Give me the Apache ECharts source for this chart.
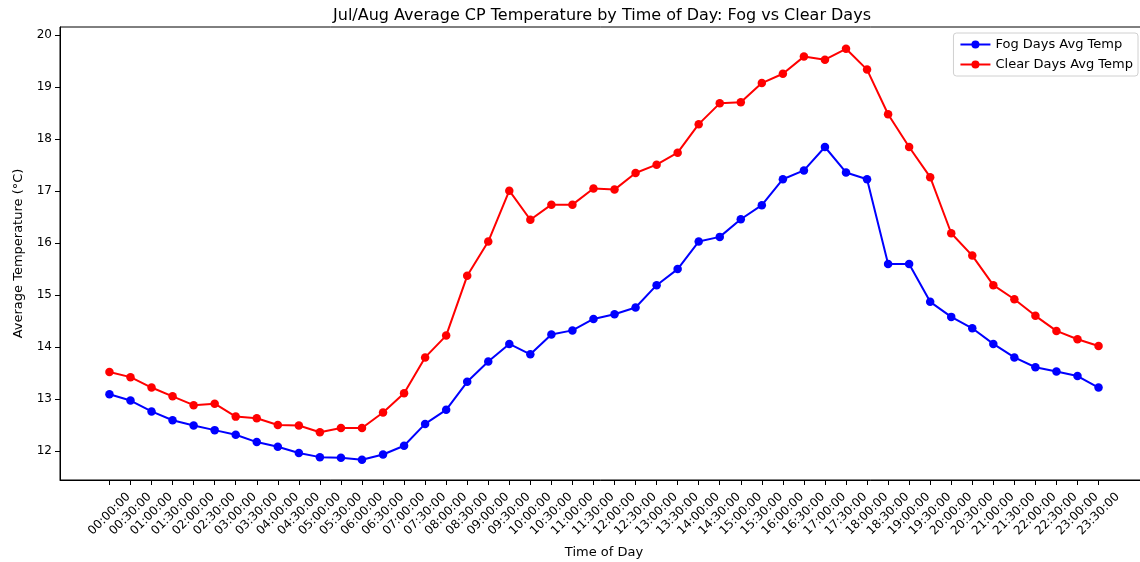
<!DOCTYPE html>
<html>
<head>
<meta charset="utf-8">
<script src="https://cdn.jsdelivr.net/npm/echarts@6/dist/echarts.min.js"></script>
<style>
  html, body { margin: 0; padding: 0; background: #fff; }
  #main { width: 1140px; height: 562px; }
</style>
</head>
<body>
<div id="main"></div>
<script>
// half-hour slots
const times = [
  '00:00:00', '00:30:00', '01:00:00', '01:30:00', '02:00:00', '02:30:00',
  '03:00:00', '03:30:00', '04:00:00', '04:30:00', '05:00:00', '05:30:00',
  '06:00:00', '06:30:00', '07:00:00', '07:30:00', '08:00:00', '08:30:00',
  '09:00:00', '09:30:00', '10:00:00', '10:30:00', '11:00:00', '11:30:00',
  '12:00:00', '12:30:00', '13:00:00', '13:30:00', '14:00:00', '14:30:00',
  '15:00:00', '15:30:00', '16:00:00', '16:30:00', '17:00:00', '17:30:00',
  '18:00:00', '18:30:00', '19:00:00', '19:30:00', '20:00:00', '20:30:00',
  '21:00:00', '21:30:00', '22:00:00', '22:30:00', '23:00:00', '23:30:00'
]

const fogTemp = [
  13.09, 12.97, 12.76, 12.59, 12.49, 12.40, 12.31, 12.17, 12.08, 11.96, 11.88, 11.87,
  11.83, 11.93, 12.10, 12.52, 12.79, 13.33, 13.72, 14.06, 13.86, 14.24, 14.32, 14.54,
  14.63, 14.76, 15.19, 15.50, 16.03, 16.12, 16.46, 16.73, 17.23, 17.40, 17.85, 17.36,
  17.23, 15.60, 15.60, 14.87, 14.58, 14.36, 14.06, 13.80, 13.61, 13.53, 13.44, 13.22
]

const clearTemp = [
  13.52, 13.42, 13.22, 13.05, 12.88, 12.91, 12.66, 12.63, 12.50, 12.49, 12.36, 12.44,
  12.44, 12.74, 13.11, 13.80, 14.22, 15.37, 16.03, 17.01, 16.45, 16.74, 16.74, 17.05,
  17.03, 17.35, 17.51, 17.74, 18.29, 18.69, 18.71, 19.08, 19.26, 19.59, 19.53, 19.74,
  19.34, 18.48, 17.85, 17.27, 16.19, 15.76, 15.19, 14.92, 14.60, 14.31, 14.15, 14.02
]

const yTicks = [12, 13, 14, 15, 16, 17, 18, 19, 20]

const font = 'DejaVu Sans'
const idx = times.map((t, i) => i)

const chart = echarts.init(document.getElementById('main'))

const option = {
  backgroundColor: '#fff',
  animation: false,
  textStyle: { fontFamily: font },
  title: {
    text: 'Jul/Aug Average CP Temperature by Time of Day: Fog vs Clear Days',
    left: 597,
    top: 3,
    textAlign: 'center',
    textStyle: { fontFamily: font, fontSize: 16, fontWeight: 'normal', color: '#000' }
  },
  legend: {
    orient: 'vertical',
    right: 2,
    top: 33,
    itemWidth: 30,
    itemHeight: 10,
    itemGap: 7,
    padding: [5, 5, 5, 6],
    backgroundColor: '#fff',
    borderColor: '#d0d0d0',
    borderWidth: 1,
    borderRadius: 3,
    textStyle: { fontFamily: font, fontSize: 13, color: '#000' },
    data: ['Fog Days Avg Temp', 'Clear Days Avg Temp']
  },
  grid: {
    left: 60,
    top: 27,
    width: 1088,
    height: 453,
    show: true,
    borderColor: '#000',
    borderWidth: 1,
    outerBoundsMode: 'none',
    containLabel: false
  },
  xAxis: {
    type: 'value',
    min: -2.35,
    max: 49.35,
    name: 'Time of Day',
    nameLocation: 'middle',
    nameGap: 66,
    nameTextStyle: { fontFamily: font, fontSize: 13, color: '#000' },
    splitLine: { show: false },
    axisLine: { onZero: false, lineStyle: { color: '#000', width: 1 } },
    axisTick: { customValues: idx, length: 5, lineStyle: { color: '#000' } },
    axisLabel: {
      customValues: idx,
      rotate: 45,
      align: 'center',
      verticalAlign: 'middle',
      margin: 34,
      fontSize: 12,
      color: '#000',
      formatter: (v) => times[Math.round(v)]
    }
  },
  yAxis: {
    type: 'value',
    min: 11.44,
    max: 20.16,
    name: 'Average Temperature (°C)',
    nameLocation: 'middle',
    nameGap: 35,
    nameRotate: 90,
    nameTextStyle: { fontFamily: font, fontSize: 13, color: '#000' },
    splitLine: { show: false },
    axisLine: { show: true, onZero: false, lineStyle: { color: '#000', width: 1 } },
    axisTick: { show: true, customValues: yTicks, length: 5, lineStyle: { color: '#000' } },
    axisLabel: { customValues: yTicks, margin: 8, fontSize: 12, color: '#000' }
  },
  series: [
    {
      name: 'Fog Days Avg Temp',
      type: 'line',
      data: fogTemp.map((v, i) => [i, v]),
      symbol: 'circle',
      symbolSize: 8.5,
      color: '#0000ff',
      lineStyle: { color: '#0000ff', width: 2 },
      itemStyle: { color: '#0000ff' }
    },
    {
      name: 'Clear Days Avg Temp',
      type: 'line',
      data: clearTemp.map((v, i) => [i, v]),
      symbol: 'circle',
      symbolSize: 8.5,
      color: '#ff0000',
      lineStyle: { color: '#ff0000', width: 2 },
      itemStyle: { color: '#ff0000' }
    }
  ]
}

chart.setOption(option)
</script>
</body>
</html>
